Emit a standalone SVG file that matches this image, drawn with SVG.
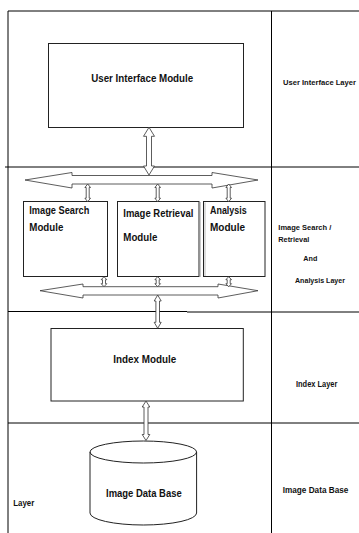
<svg xmlns="http://www.w3.org/2000/svg" width="359" height="533" viewBox="0 0 359 533">
<style>
.frame{stroke:#000;stroke-width:1;fill:none}
.box{fill:#fff;stroke:#222;stroke-width:1}
.arr{fill:#fff;stroke:#333;stroke-width:0.8;stroke-linejoin:miter}
text{font-family:"Liberation Sans",Arial,sans-serif;font-weight:bold;fill:#111}
.m{font-size:10.3px}
.s{font-size:8px}
</style>
<rect width="359" height="533" fill="#fff"/>
<g id="frame">
<line class="frame" x1="8" y1="11" x2="359" y2="11"/>
<line class="frame" x1="8" y1="11" x2="8" y2="533"/>
<line class="frame" x1="271.5" y1="11" x2="271.5" y2="533"/>
<line class="frame" x1="5" y1="167" x2="359" y2="167"/>
<line class="frame" x1="8" y1="311.5" x2="187" y2="311.5"/>
<line class="frame" x1="187" y1="312" x2="359" y2="312"/>
<line class="frame" x1="8" y1="423" x2="359" y2="423"/>
</g>
<g id="layer-labels">
<text class="s" x="283" y="85" textLength="73" lengthAdjust="spacingAndGlyphs">User Interface Layer</text>
<text class="s" x="278.3" y="230" textLength="53" lengthAdjust="spacingAndGlyphs">Image Search /</text>
<text class="s" x="278.3" y="241.7" textLength="31" lengthAdjust="spacingAndGlyphs">Retrieval</text>
<text class="s" x="303.3" y="261" textLength="14" lengthAdjust="spacingAndGlyphs">And</text>
<text class="s" x="295" y="282.7" textLength="50" lengthAdjust="spacingAndGlyphs">Analysis Layer</text>
<text class="s" x="296" y="387.3" style="font-size:9.5px" textLength="41.3" lengthAdjust="spacingAndGlyphs">Index Layer</text>
<text class="s" x="282.7" y="493.3" style="font-size:8.6px" textLength="65.7" lengthAdjust="spacingAndGlyphs">Image Data Base</text>
<text class="s" x="13.3" y="506" style="font-size:8.4px" textLength="21" lengthAdjust="spacingAndGlyphs">Layer</text>
</g>
<g id="ui-module">
<rect class="box" x="48.5" y="43.5" width="195" height="84"/>
<text class="m" x="91.2" y="82.3" textLength="102" lengthAdjust="spacingAndGlyphs">User Interface Module</text>
</g>
<g id="image-search-module">
<rect class="box" x="23.5" y="201.5" width="84" height="75"/>
<text class="m" x="29.3" y="214.3" textLength="60" lengthAdjust="spacingAndGlyphs">Image Search</text>
<text class="m" x="29.3" y="230.7" textLength="34" lengthAdjust="spacingAndGlyphs">Module</text>
</g>
<g id="image-retrieval-module">
<rect class="box" x="117.5" y="201.5" width="81.5" height="75"/>
<line x1="200.3" y1="202" x2="200.3" y2="277" stroke="#aaa" stroke-width="0.8"/>
<text class="m" x="123.3" y="216.7" textLength="70" lengthAdjust="spacingAndGlyphs">Image Retrieval</text>
<text class="m" x="123.3" y="240.7" textLength="34" lengthAdjust="spacingAndGlyphs">Module</text>
</g>
<g id="analysis-module">
<rect class="box" x="203.5" y="201.5" width="61.5" height="75"/>
<line x1="205" y1="202.5" x2="205" y2="276" stroke="#aaa" stroke-width="0.8"/>
<text class="m" x="210" y="214" textLength="36.7" lengthAdjust="spacingAndGlyphs">Analysis</text>
<text class="m" x="210" y="230.7" textLength="35" lengthAdjust="spacingAndGlyphs">Module</text>
</g>
<g id="index-module">
<rect class="box" x="51" y="328.5" width="192.3" height="72.5"/>
<text class="m" x="113.3" y="363.3" textLength="63" lengthAdjust="spacingAndGlyphs">Index Module</text>
</g>
<g id="image-database">
<path class="box" d="M90,452 A53.3,11 0 0 1 196.6,452 L196.6,513 A53.3,12 0 0 1 90,513 Z"/>
<path d="M90,452 A53.3,11 0 0 0 196.6,452" fill="none" stroke="#222" stroke-width="1"/>
<text class="m" x="106" y="496.9" textLength="75.7" lengthAdjust="spacingAndGlyphs">Image Data Base</text>
</g>
<g id="connectors">
<path class="arr" d="M25,180 L72,172.5 L72,175.5 L212,175.5 L212,172.5 L258,180 L212,188 L212,184 L72,184 L72,188 Z"/>
<path class="arr" d="M40,290.7 L83,284 L83,286.7 L218,286.7 L218,284 L258,290.7 L218,298 L218,295 L83,295 L83,298 Z"/>
<path class="arr" d="M149,127.3 L154.5,136.3 L151.5,136.3 L151.5,166 L154.5,166 L149,175 L143.5,166 L146.5,166 L146.5,136.3 L143.5,136.3 Z"/>
<path class="arr" d="M87.7,184 L90.5,187.5 L89.2,187.5 L89.2,198.2 L90.5,198.2 L87.7,201.7 L84.9,198.2 L86.2,198.2 L86.2,187.5 L84.9,187.5 Z"/>
<path class="arr" d="M157.7,184 L160.5,187.5 L159.2,187.5 L159.2,198.2 L160.5,198.2 L157.7,201.7 L154.9,198.2 L156.2,198.2 L156.2,187.5 L154.9,187.5 Z"/>
<path class="arr" d="M228.7,184 L231.5,187.5 L230.2,187.5 L230.2,198.2 L231.5,198.2 L228.7,201.7 L225.9,198.2 L227.2,198.2 L227.2,187.5 L225.9,187.5 Z"/>
<path class="arr" d="M104,276.7 L106.8,279.7 L105.5,279.7 L105.5,283.7 L106.8,283.7 L104,286.7 L101.2,283.7 L102.5,283.7 L102.5,279.7 L101.2,279.7 Z"/>
<path class="arr" d="M157.7,276.7 L160.5,279.7 L159.2,279.7 L159.2,283.7 L160.5,283.7 L157.7,286.7 L154.9,283.7 L156.2,283.7 L156.2,279.7 L154.9,279.7 Z"/>
<path class="arr" d="M228.7,276.7 L231.5,279.7 L230.2,279.7 L230.2,283.7 L231.5,283.7 L228.7,286.7 L225.9,283.7 L227.2,283.7 L227.2,279.7 L225.9,279.7 Z"/>
<path class="arr" d="M157.7,295 L161.2,301 L159.5,301 L159.5,322.3 L161.2,322.3 L157.7,328.3 L154.2,322.3 L155.9,322.3 L155.9,301 L154.2,301 Z"/>
<path class="arr" d="M146,401 L149.8,407 L148,407 L148,434.5 L149.8,434.5 L146,440.5 L142.2,434.5 L144,434.5 L144,407 L142.2,407 Z"/>
</g>
</svg>
